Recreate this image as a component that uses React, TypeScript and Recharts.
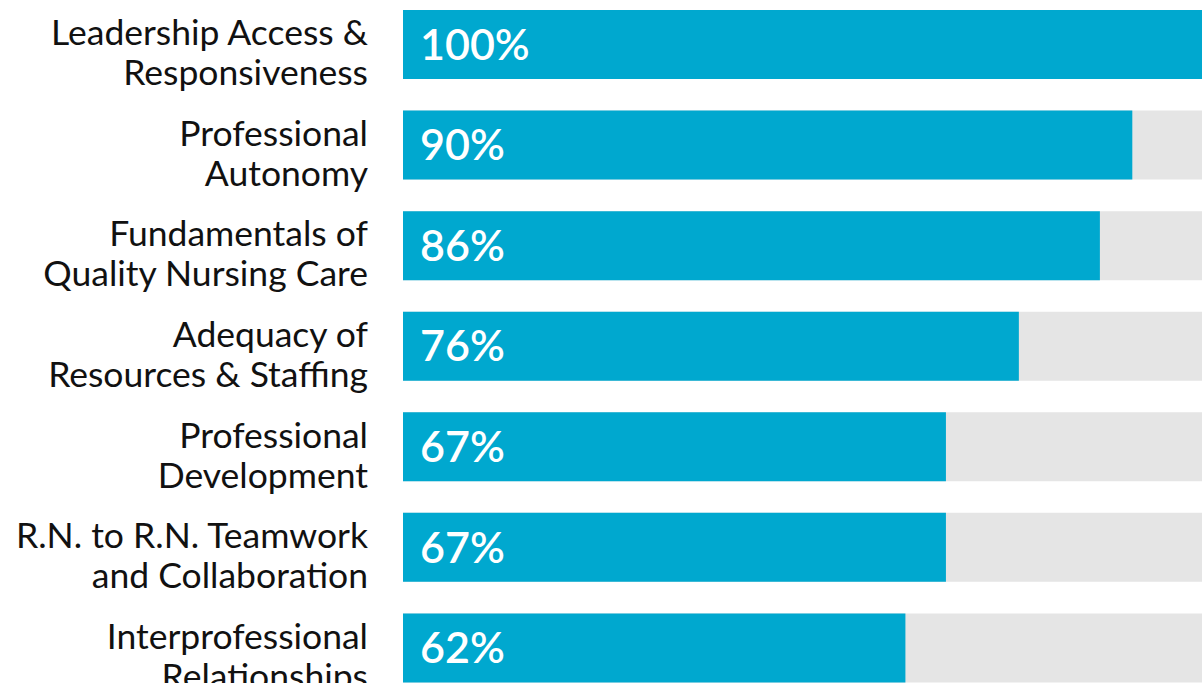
import { BarChart, Bar, XAxis, YAxis, LabelList } from 'recharts';

const categories = [
  'Leadership Access &\nResponsiveness',
  'Professional\nAutonomy',
  'Fundamentals of\nQuality Nursing Care',
  'Adequacy of\nResources & Staffing',
  'Professional\nDevelopment',
  'R.N. to R.N. Teamwork\nand Collaboration',
  'Interprofessional\nRelationships',
];

const scores = [100, 90, 86, 76, 67, 67, 62];

const data = categories.map((name, i) => ({ name, score: scores[i] }));

const FONT = 'Lato, "Open Sans", sans-serif';

function CategoryTick(props: any) {
  const { x, y, payload } = props;
  const lines = String(payload.value).split('\n');
  return (
    <text x={x} y={y} textAnchor="end" fill="#111" fontFamily={FONT} fontSize={35.5}>
      {lines.map((line, i) => (
        <tspan key={i} x={x} dy={i === 0 ? 1 : 40}>
          {line}
        </tspan>
      ))}
    </text>
  );
}

export default function App() {
  return (
    <div style={{ position: 'absolute', left: 0, top: 0, width: 1202, height: 683, overflow: 'hidden', background: '#fff' }}>
      <div style={{ marginTop: -6 }}>
        <BarChart
          width={1202}
          height={704}
          data={data}
          layout="vertical"
          margin={{ top: 0, right: 0, bottom: 0, left: 0 }}
        >
          <XAxis type="number" domain={[0, 98.6]} allowDataOverflow hide />
          <YAxis
            type="category"
            dataKey="name"
            width={403}
            axisLine={false}
            tickLine={false}
            tickSize={0}
            tickMargin={35}
            tick={<CategoryTick />}
            interval={0}
          />
          <Bar
            dataKey="score"
            fill="#00A8CF"
            barSize={69}
            background={{ fill: '#E5E5E5' }}
            isAnimationActive={false}
          >
            <LabelList
              dataKey="score"
              position="insideLeft"
              offset={17}
              fill="#fff"
              fontFamily={FONT}
              fontSize={43}
              fontWeight={600}
              formatter={(v: any) => `${v}%`}
            />
          </Bar>
        </BarChart>
      </div>
    </div>
  );
}
